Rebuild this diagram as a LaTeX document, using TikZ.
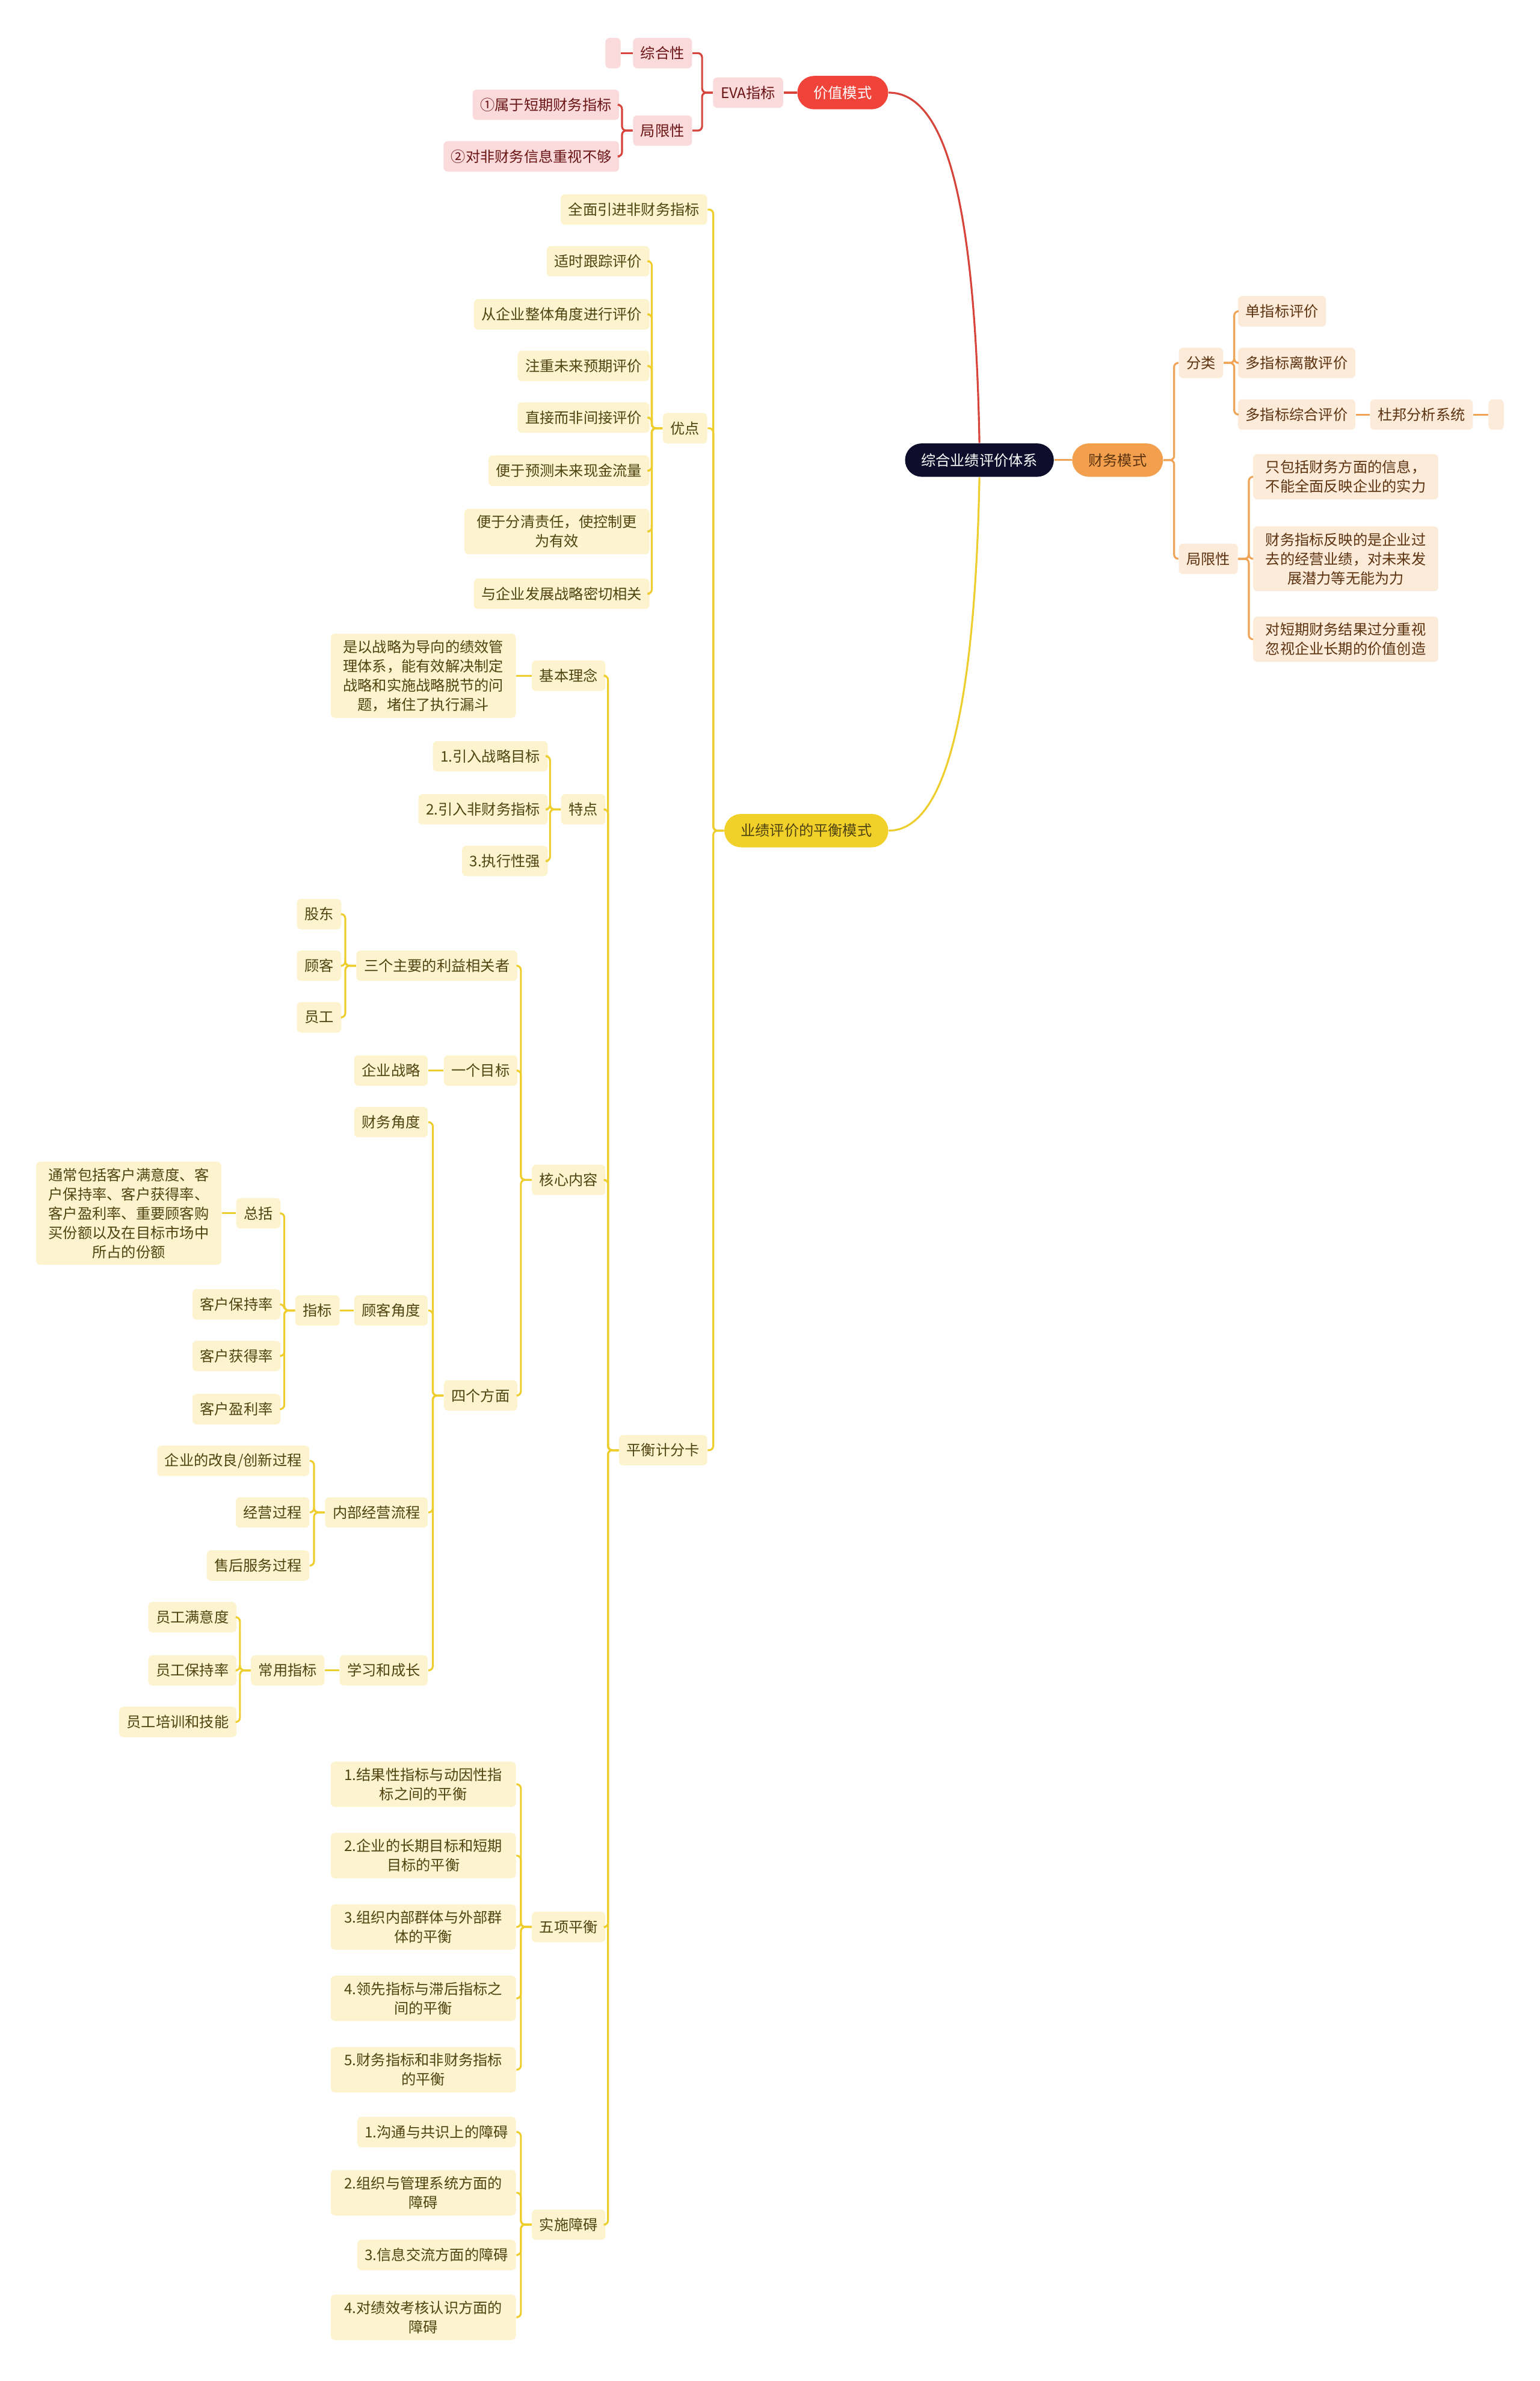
\documentclass[tikz,border=0pt]{standalone}
\usepackage{fontspec}
\setmainfont{Noto Sans CJK SC}
\usetikzlibrary{calc}
\definecolor{rootfill}{HTML}{0E0E2C}
\definecolor{valfill}{HTML}{F0433A}
\definecolor{finfill}{HTML}{F3A04E}
\definecolor{balfill}{HTML}{F1D02A}
\definecolor{redfill}{HTML}{FBDADB}
\definecolor{redtext}{HTML}{6A1515}
\definecolor{redline}{HTML}{D6443C}
\definecolor{orfill}{HTML}{FDEBDA}
\definecolor{ortext}{HTML}{5C3310}
\definecolor{orline}{HTML}{EFA457}
\definecolor{yefill}{HTML}{FDF4CF}
\definecolor{yetext}{HTML}{4F4410}
\definecolor{yeline}{HTML}{EDCE2E}
\newcommand{\mapfont}{\fontsize{6.9pt}{9.1pt}\selectfont}

\begin{document}
\begin{tikzpicture}[
  x=0.025247cm, y=-0.025247cm,
  mapbox/.style={rounded corners=2pt, inner xsep=3.6pt, inner ysep=3pt, minimum height=14.4pt,
                 align=center, font=\mapfont},
  pill/.style={rounded corners=7.9pt, minimum height=15.8pt, inner xsep=0pt, align=center, font=\mapfont},
  rbox/.style={mapbox, fill=redfill, text=redtext},
  obox/.style={mapbox, fill=orfill, text=ortext},
  ybox/.style={mapbox, fill=yefill, text=yetext},
  wide/.style={minimum width=87.6pt},
  blank/.style={minimum width=7.2pt, inner xsep=0pt},
  lside/.style={anchor=east},
  rside/.style={anchor=west},
  rln/.style={draw=redline, line width=0.9pt, rounded corners=2pt},
  oln/.style={draw=orline, line width=0.9pt, rounded corners=2pt},
  yln/.style={draw=yeline, line width=0.9pt, rounded corners=2pt},
  lft/.style={to path={-- ++(-7,0) |- (\tikztotarget)}},
  rgt/.style={to path={-- ++(7,0) |- (\tikztotarget)}}
]
\useasboundingbox (0,0) rectangle (1014,1568);

\node[pill, fill=rootfill, text=white, minimum width=70.4pt] (root) at (645,303) {综合业绩评价体系};

% value branch
\node[pill, fill=valfill, text=white, minimum width=43pt] (val) at (555,61) {价值模式};
\node[rbox, lside] (eva) at (516,61) {EVA指标};
\node[rbox, lside] (zh)  at (456,35) {综合性};
\node[rbox, blank, lside] (zh0) at (409,35) {};
\node[rbox, lside] (jx)  at (456,86) {局限性};
\node[rbox, lside] (jx1) at (408,69) {①属于短期财务指标};
\node[rbox, lside] (jx2) at (408,103) {②对非财务信息重视不够};

% finance branch
\node[pill, fill=finfill, text=ortext, minimum width=43pt] (fin) at (736,303) {财务模式};
\node[obox, rside] (fl)  at (776,239) {分类};
\node[obox, rside] (fl1) at (815,205) {单指标评价};
\node[obox, rside] (fl2) at (815,239) {多指标离散评价};
\node[obox, rside] (fl3) at (815,273) {多指标综合评价};
\node[obox, rside] (dp)  at (902,273) {杜邦分析系统};
\node[obox, blank, rside] (dp0) at (980,273) {};
\node[obox, rside] (fj)  at (776,368) {局限性};
\node[obox, wide, rside] (fj1) at (825,314) {只包括财务方面的信息，\\不能全面反映企业的实力};
\node[obox, wide, rside] (fj2) at (825,368) {财务指标反映的是企业过\\去的经营业绩，对未来发\\展潜力等无能为力};
\node[obox, wide, rside] (fj3) at (825,421) {对短期财务结果过分重视\\忽视企业长期的价值创造};

% balance branch
\node[pill, fill=balfill, text=yetext, minimum width=77.6pt] (bal) at (531,547) {业绩评价的平衡模式};
\node[ybox, lside] (qm)  at (466,138) {全面引进非财务指标};
\node[ybox, lside] (yd)  at (466,282) {优点};
\node[ybox, lside] (yd1) at (428,172) {适时跟踪评价};
\node[ybox, lside] (yd2) at (428,207) {从企业整体角度进行评价};
\node[ybox, lside] (yd3) at (428,241) {注重未来预期评价};
\node[ybox, lside] (yd4) at (428,275) {直接而非间接评价};
\node[ybox, lside] (yd5) at (428,310) {便于预测未来现金流量};
\node[ybox, wide, lside] (yd6) at (428,350) {便于分清责任，使控制更\\为有效};
\node[ybox, lside] (yd7) at (428,391) {与企业发展战略密切相关};
\node[ybox, lside] (bsc) at (466,955) {平衡计分卡};

\node[ybox, lside] (jb)  at (399,445) {基本理念};
\node[ybox, wide, lside] (jb1) at (340,445) {是以战略为导向的绩效管\\理体系，能有效解决制定\\战略和实施战略脱节的问\\题，堵住了执行漏斗};
\node[ybox, lside] (td)  at (399,533) {特点};
\node[ybox, lside] (td1) at (361,498) {1.引入战略目标};
\node[ybox, lside] (td2) at (361,533) {2.引入非财务指标};
\node[ybox, lside] (td3) at (361,567) {3.执行性强};

\node[ybox, lside] (hx)  at (399,777) {核心内容};
\node[ybox, lside] (hx1) at (341,636) {三个主要的利益相关者};
\node[ybox, lside] (gd)  at (225,602) {股东};
\node[ybox, lside] (gk)  at (225,636) {顾客};
\node[ybox, lside] (yg)  at (225,670) {员工};
\node[ybox, lside] (hx2) at (341,705) {一个目标};
\node[ybox, lside] (qz)  at (282,705) {企业战略};
\node[ybox, lside] (hx3) at (341,919) {四个方面};
\node[ybox, lside] (a1)  at (282,739) {财务角度};
\node[ybox, lside] (a2)  at (282,863) {顾客角度};
\node[ybox, lside] (zb)  at (224,863) {指标};
\node[ybox, lside] (zk)  at (185,799) {总括};
\node[ybox, wide, lside] (zk1) at (146,799) {通常包括客户满意度、客\\户保持率、客户获得率、\\客户盈利率、重要顾客购\\买份额以及在目标市场中\\所占的份额};
\node[ybox, lside] (k1)  at (185,859) {客户保持率};
\node[ybox, lside] (k2)  at (185,893) {客户获得率};
\node[ybox, lside] (k3)  at (185,928) {客户盈利率};
\node[ybox, lside] (a3)  at (282,996) {内部经营流程};
\node[ybox, lside] (n1)  at (204,962) {企业的改良/创新过程};
\node[ybox, lside] (n2)  at (204,996) {经营过程};
\node[ybox, lside] (n3)  at (204,1031) {售后服务过程};
\node[ybox, lside] (a4)  at (282,1100) {学习和成长};
\node[ybox, lside] (cy)  at (214,1100) {常用指标};
\node[ybox, lside] (c1)  at (156,1065) {员工满意度};
\node[ybox, lside] (c2)  at (156,1100) {员工保持率};
\node[ybox, lside] (c3)  at (156,1134) {员工培训和技能};

\node[ybox, lside] (wx)  at (399,1269) {五项平衡};
\node[ybox, wide, lside] (w1) at (340,1175) {1.结果性指标与动因性指\\标之间的平衡};
\node[ybox, wide, lside] (w2) at (340,1222) {2.企业的长期目标和短期\\目标的平衡};
\node[ybox, wide, lside] (w3) at (340,1269) {3.组织内部群体与外部群\\体的平衡};
\node[ybox, wide, lside] (w4) at (340,1316) {4.领先指标与滞后指标之\\间的平衡};
\node[ybox, wide, lside] (w5) at (340,1363) {5.财务指标和非财务指标\\的平衡};
\node[ybox, lside] (ss)  at (399,1465) {实施障碍};
\node[ybox, lside] (s1)  at (340,1404) {1.沟通与共识上的障碍};
\node[ybox, wide, lside] (s2) at (340,1444) {2.组织与管理系统方面的\\障碍};
\node[ybox, lside] (s3)  at (340,1485) {3.信息交流方面的障碍};
\node[ybox, wide, lside] (s4) at (340,1526) {4.对绩效考核认识方面的\\障碍};

% connectors
\draw[rln] (root.north) .. controls (642,130) and (622,61) .. (val.east);
\draw[rln] (val.west) -- (eva.east);
\foreach \c in {zh,jx} \draw[rln] (eva.west) to[lft] (\c.east);
\draw[rln] (zh.west) -- (zh0.east);
\foreach \c in {jx1,jx2} \draw[rln] (jx.west) to[lft] (\c.east);

\draw[oln] (root.east) -- (fin.west);
\foreach \c in {fl,fj} \draw[oln] (fin.east) to[rgt] (\c.west);
\foreach \c in {fl1,fl2,fl3} \draw[oln] (fl.east) to[rgt] (\c.west);
\draw[oln] (fl3.east) -- (dp.west);
\draw[oln] (dp.east) -- (dp0.west);
\foreach \c in {fj1,fj2,fj3} \draw[oln] (fj.east) to[rgt] (\c.west);

\draw[yln] (root.south) .. controls (642,470) and (622,547) .. (bal.east);
\foreach \c in {qm,yd,bsc} \draw[yln] (bal.west) to[lft] (\c.east);
\foreach \c in {yd1,yd2,yd3,yd4,yd5,yd6,yd7} \draw[yln] (yd.west) to[lft] (\c.east);
\foreach \c in {jb,td,hx,wx,ss} \draw[yln] (bsc.west) to[lft] (\c.east);
\draw[yln] (jb.west) -- (jb1.east);
\foreach \c in {td1,td2,td3} \draw[yln] (td.west) to[lft] (\c.east);
\foreach \c in {hx1,hx2,hx3} \draw[yln] (hx.west) to[lft] (\c.east);
\foreach \c in {gd,gk,yg} \draw[yln] (hx1.west) to[lft] (\c.east);
\draw[yln] (hx2.west) -- (qz.east);
\foreach \c in {a1,a2,a3,a4} \draw[yln] (hx3.west) to[lft] (\c.east);
\draw[yln] (a2.west) -- (zb.east);
\foreach \c in {zk,k1,k2,k3} \draw[yln] (zb.west) to[lft] (\c.east);
\draw[yln] (zk.west) -- (zk1.east);
\foreach \c in {n1,n2,n3} \draw[yln] (a3.west) to[lft] (\c.east);
\draw[yln] (a4.west) -- (cy.east);
\foreach \c in {c1,c2,c3} \draw[yln] (cy.west) to[lft] (\c.east);
\foreach \c in {w1,w2,w3,w4,w5} \draw[yln] (wx.west) to[lft] (\c.east);
\foreach \c in {s1,s2,s3,s4} \draw[yln] (ss.west) to[lft] (\c.east);
\end{tikzpicture}
\end{document}
